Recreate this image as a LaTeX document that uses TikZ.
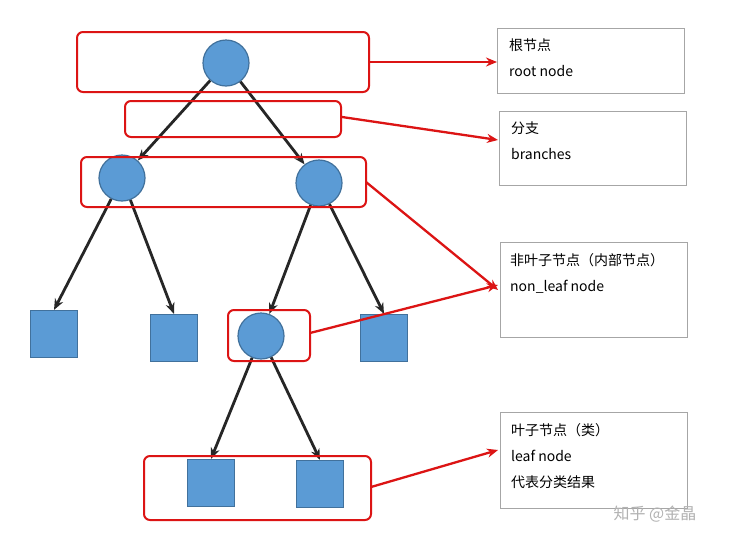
\documentclass[tikz,border=0pt]{standalone}
\usepackage{fontspec}
\setmainfont{Liberation Sans}
\newfontfamily\cjk{Noto Sans CJK SC}
\usetikzlibrary{arrows.meta}
\definecolor{nodeblue}{RGB}{91,155,213}
\definecolor{nodeedge}{RGB}{65,113,156}
\definecolor{redc}{RGB}{220,20,20}
\begin{document}
\begin{tikzpicture}[x=1pt,y=-1pt,
  circ/.style={circle,fill=nodeblue,draw=nodeedge,line width=1.2pt,minimum size=46pt,inner sep=0},
  sq/.style={rectangle,fill=nodeblue,draw=nodeedge,line width=1.2pt,minimum size=47pt,inner sep=0},
  grp/.style={draw=redc,line width=2pt,rounded corners=6pt},
  edge/.style={-{Stealth[length=11pt,width=9pt]},line width=2.8pt,black!85},
  rarr/.style={-{Stealth[length=11pt,width=9pt]},line width=2.3pt,redc},
  lab/.style={draw=black!35,line width=0.7pt,anchor=north west,inner sep=0},
  txt/.style={anchor=north west,align=left,font=\cjk\fontsize{14}{26}\selectfont,inner sep=0}]
\useasboundingbox[fill=white] (0,0) rectangle (733,544);
\node[circ] (r) at (226,63) {};
\node[circ] (a) at (122,178) {};
\node[circ] (b) at (319,183) {};
\node[sq] (s1) at (54,334) {};
\node[sq] (s2) at (174,338) {};
\node[circ] (c) at (261,336) {};
\node[sq] (s3) at (384,338) {};
\node[sq] (s4) at (211,483) {};
\node[sq] (s5) at (320,484) {};
\draw[edge] (r) -- (a);
\draw[edge] (r) -- (b);
\draw[edge] (a) -- (s1.north);
\draw[edge] (a) -- (s2.north);
\draw[edge] (b) -- (c);
\draw[edge] (b) -- (s3.north);
\draw[edge] (c) -- (s4.north);
\draw[edge] (c) -- (s5.north);
\draw[grp] (77,32) rectangle (369,92);
\draw[grp] (125,101) rectangle (341,137);
\draw[grp] (81,157) rectangle (366,207);
\draw[grp] (228,310) rectangle (310,361);
\draw[grp] (144,456) rectangle (371,520);
\node[lab,minimum width=187pt,minimum height=65pt] (l1) at (497,28) {};
\node[txt] at (509,39) {根节点\\root node};
\node[lab,minimum width=187pt,minimum height=74pt] (l2) at (499,111) {};
\node[txt] at (511,122) {分支\\branches};
\node[lab,minimum width=187pt,minimum height=95pt] (l3) at (500,242) {};
\node[txt] at (510,253) {非叶子节点（内部节点）\\non\_leaf node};
\node[lab,minimum width=187pt,minimum height=96pt] (l4) at (500,412) {};
\node[txt] at (511,423) {叶子节点（类）\\leaf node\\代表分类结果};
\coordinate (g1) at (369,62);
\coordinate (g2) at (342,117);
\coordinate (g3) at (366,182);
\coordinate (g4) at (310,333);
\coordinate (g5) at (371,487);
\draw[rarr] (g1) -- (l1.west |- g1);
\draw[rarr] (g2) -- (498,140);
\draw[rarr] (g3) -- (498,290);
\draw[rarr] (g4) -- (498,285);
\draw[rarr] (g5) -- (498,450);
\node[anchor=center,font=\cjk\fontsize{16}{16}\selectfont,text=black!30] (wm) at (655,514) {知乎 @金晶};
\end{tikzpicture}
\end{document}
